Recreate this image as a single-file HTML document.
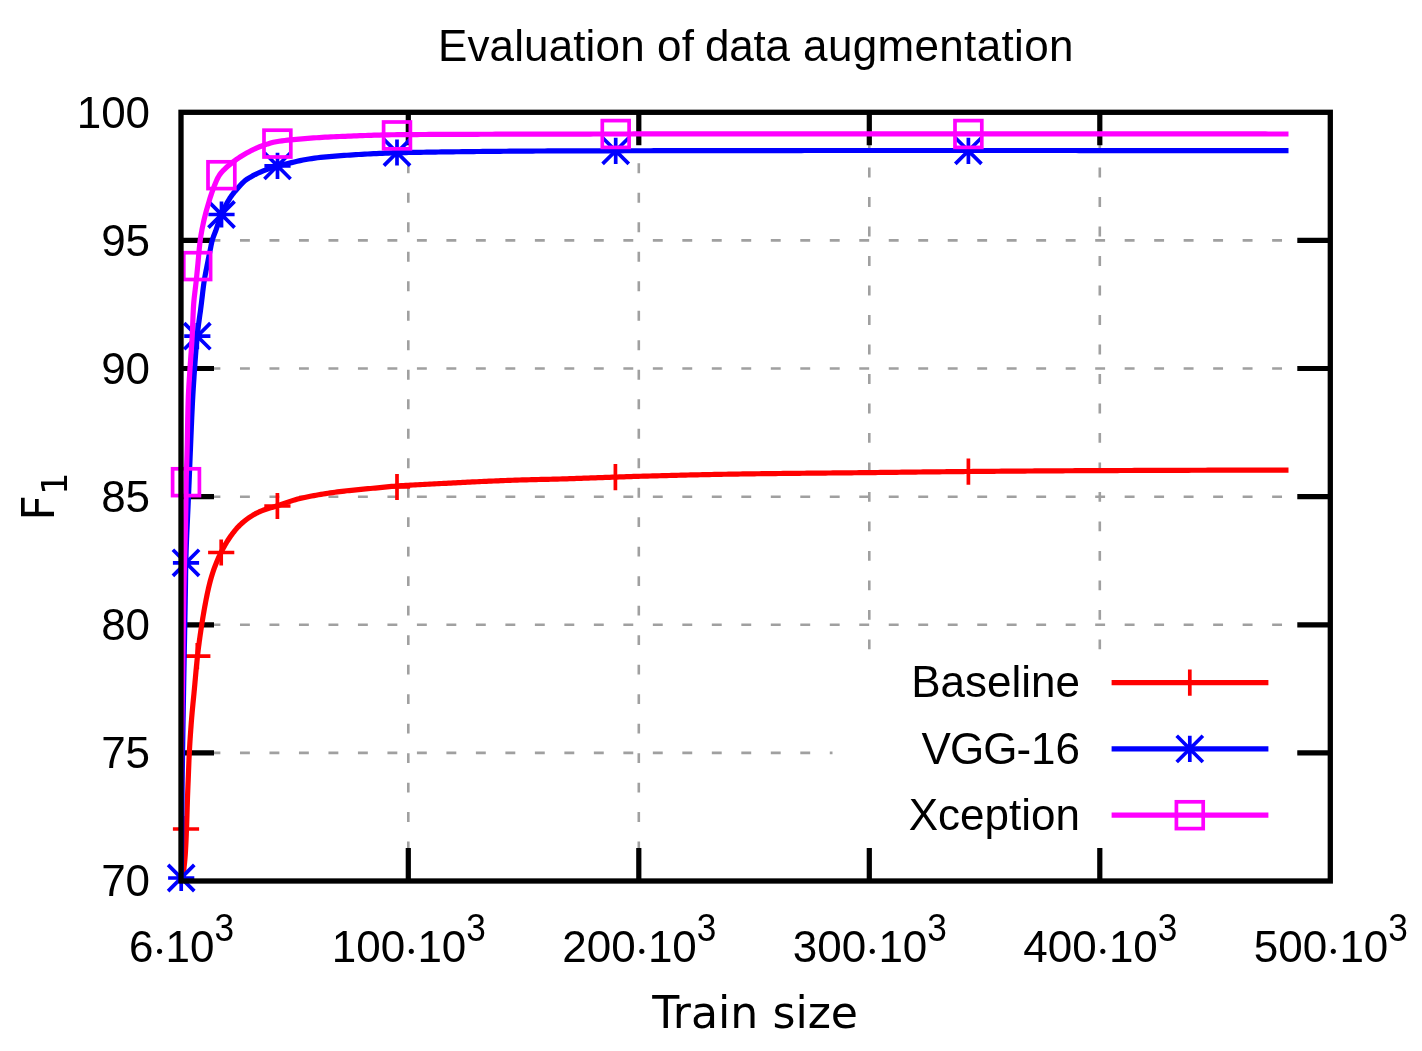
<!DOCTYPE html>
<html lang="en"><head><meta charset="utf-8"><title>Evaluation of data augmentation</title>
<style>html,body{margin:0;padding:0;background:#fff}svg{display:block}</style></head>
<body>
<svg width="1422" height="1051" viewBox="0 0 1422 1051">
<defs><clipPath id="plot"><rect x="181.0" y="112.3" width="1149.3" height="768.7"/></clipPath></defs>
<rect width="1422" height="1051" fill="#fff"/>
<g stroke="#a0a0a0" stroke-width="2.6" fill="none"><path d="M181.0,240.4H1330.3" stroke-dasharray="9.90 19.59"/><path d="M181.0,368.5H1330.3" stroke-dasharray="9.90 19.59"/><path d="M181.0,496.7H1330.3" stroke-dasharray="9.90 19.59"/><path d="M181.0,624.8H1330.3" stroke-dasharray="9.90 19.59"/><path d="M181.0,752.9H832.5" stroke-dasharray="9.90 19.59"/><path d="M1297.5,752.9H1330.3" stroke-dasharray="9.90 19.59"/><path d="M408.3,881.0V112.3" stroke-dasharray="9.90 19.59"/><path d="M638.8,881.0V112.3" stroke-dasharray="9.90 19.59"/><path d="M869.3,881.0V852.0" stroke-dasharray="9.90 19.59"/><path d="M869.3,649.3V112.3" stroke-dasharray="9.90 19.59"/><path d="M1099.8,881.0V852.0" stroke-dasharray="9.90 19.59"/><path d="M1099.8,649.3V112.3" stroke-dasharray="9.90 19.59"/></g>
<path d="M181.0,240.4h33.0M1330.3,240.4h-33.0M181.0,368.5h33.0M1330.3,368.5h-33.0M181.0,496.7h33.0M1330.3,496.7h-33.0M181.0,624.8h33.0M1330.3,624.8h-33.0M181.0,752.9h33.0M1330.3,752.9h-33.0M408.3,881.0v-33.0M408.3,112.3v33.0M638.8,881.0v-33.0M638.8,112.3v33.0M869.3,881.0v-33.0M869.3,112.3v33.0M1099.8,881.0v-33.0M1099.8,112.3v33.0" stroke="#000" stroke-width="5.2" fill="none"/>
<path d="M182.70,881.00 L182.94,878.64 L183.17,876.28 L183.41,873.92 L183.64,871.55 L183.88,869.19 L184.12,866.83 L184.36,864.47 L184.62,862.11 L184.86,859.75 L185.07,857.39 L185.24,855.02 L185.39,852.65 L185.53,850.28 L185.66,847.92 L185.78,845.54 L185.90,843.17 L186.01,840.80 L186.12,838.43 L186.22,836.06 L186.31,833.69 L186.41,831.31 L186.50,828.94 L186.59,826.57 L186.68,824.20 L186.76,821.83 L186.84,819.46 L186.91,817.08 L186.98,814.71 L187.05,812.34 L187.12,809.97 L187.19,807.60 L187.27,805.22 L187.34,802.85 L187.41,800.48 L187.49,798.11 L187.57,795.73 L187.66,793.36 L187.75,790.99 L187.85,788.62 L187.94,786.25 L188.04,783.88 L188.14,781.51 L188.23,779.13 L188.33,776.76 L188.42,774.39 L188.51,772.02 L188.60,769.65 L188.69,767.28 L188.78,764.90 L188.87,762.53 L188.97,760.16 L189.07,757.79 L189.18,755.42 L189.30,753.05 L189.42,750.68 L189.55,748.31 L189.69,745.94 L189.83,743.57 L189.98,741.20 L190.13,738.84 L190.29,736.47 L190.45,734.10 L190.62,731.73 L190.79,729.36 L190.97,727.00 L191.14,724.63 L191.32,722.26 L191.51,719.90 L191.70,717.53 L191.90,715.17 L192.11,712.81 L192.32,710.44 L192.55,708.08 L192.77,705.72 L193.00,703.35 L193.23,700.99 L193.47,698.63 L193.70,696.27 L193.93,693.91 L194.15,691.54 L194.38,689.18 L194.59,686.82 L194.81,684.45 L195.02,682.09 L195.23,679.72 L195.44,677.36 L195.65,674.99 L195.86,672.63 L196.07,670.27 L196.29,667.90 L196.52,665.54 L196.75,663.18 L196.99,660.82 L197.23,658.46 L197.49,656.10 L197.76,653.74 L198.03,651.39 L198.32,649.03 L198.61,646.68 L198.92,644.32 L199.23,641.97 L199.55,639.61 L199.88,637.26 L200.21,634.91 L200.56,632.56 L200.90,630.22 L201.26,627.87 L201.62,625.52 L201.98,623.18 L202.36,620.84 L202.73,618.49 L203.12,616.15 L203.51,613.81 L203.92,611.47 L204.33,609.13 L204.75,606.79 L205.18,604.45 L205.62,602.12 L206.07,599.79 L206.53,597.46 L207.00,595.14 L207.49,592.82 L207.99,590.50 L208.51,588.19 L209.05,585.87 L209.61,583.56 L210.20,581.26 L210.83,578.97 L211.49,576.69 L212.18,574.43 L212.91,572.18 L213.68,569.93 L214.49,567.69 L215.34,565.46 L216.22,563.25 L217.12,561.04 L218.06,558.85 L219.03,556.68 L220.03,554.54 L221.04,552.41 L222.10,550.30 L223.21,548.20 L224.37,546.12 L225.56,544.06 L226.81,542.01 L228.08,540.00 L229.40,538.02 L230.74,536.07 L232.11,534.16 L233.55,532.26 L235.04,530.40 L236.59,528.58 L238.20,526.82 L239.85,525.14 L241.57,523.53 L243.36,521.96 L245.21,520.45 L247.12,519.00 L249.05,517.63 L251.02,516.34 L253.05,515.09 L255.12,513.90 L257.23,512.78 L259.37,511.77 L261.54,510.87 L263.75,510.05 L265.99,509.29 L268.26,508.57 L270.54,507.87 L272.83,507.19 L275.11,506.49 L277.37,505.78 L279.63,505.02 L281.88,504.25 L284.13,503.46 L286.37,502.67 L288.62,501.89 L290.88,501.13 L293.14,500.40 L295.40,499.71 L297.68,499.08 L299.97,498.51 L302.27,497.98 L304.57,497.48 L306.89,496.99 L309.21,496.52 L311.54,496.06 L313.87,495.62 L316.21,495.19 L318.55,494.78 L320.90,494.38 L323.25,493.99 L325.60,493.62 L327.96,493.26 L330.31,492.91 L332.66,492.58 L335.02,492.25 L337.37,491.94 L339.72,491.64 L342.07,491.34 L344.43,491.06 L346.78,490.79 L349.14,490.54 L351.50,490.29 L353.86,490.05 L356.22,489.81 L358.59,489.58 L360.95,489.36 L363.32,489.14 L365.68,488.92 L368.05,488.71 L370.41,488.49 L372.78,488.28 L375.14,488.06 L377.50,487.84 L379.87,487.61 L382.23,487.38 L384.59,487.14 L386.95,486.90 L389.32,486.67 L391.68,486.44 L394.04,486.23 L396.41,486.04 L398.77,485.87 L401.14,485.71 L403.51,485.55 L405.87,485.41 L408.24,485.26 L410.61,485.12 L412.98,484.99 L415.35,484.86 L417.72,484.73 L420.09,484.61 L422.46,484.49 L424.83,484.37 L427.20,484.25 L429.58,484.13 L431.95,484.01 L434.32,483.89 L436.69,483.77 L439.06,483.65 L441.43,483.52 L443.80,483.40 L446.17,483.28 L448.54,483.15 L450.91,483.03 L453.28,482.90 L455.65,482.78 L458.02,482.66 L460.39,482.54 L462.76,482.42 L465.13,482.30 L467.50,482.18 L469.87,482.07 L472.24,481.96 L474.61,481.85 L476.98,481.74 L479.35,481.63 L481.72,481.52 L484.09,481.42 L486.47,481.31 L488.84,481.21 L491.21,481.11 L493.58,481.00 L495.95,480.90 L498.32,480.80 L500.69,480.70 L503.06,480.61 L505.44,480.51 L507.81,480.42 L510.18,480.33 L512.55,480.25 L514.92,480.16 L517.29,480.09 L519.67,480.01 L522.04,479.94 L524.41,479.87 L526.78,479.81 L529.15,479.75 L531.53,479.69 L533.90,479.63 L536.27,479.57 L538.64,479.52 L541.02,479.47 L543.39,479.41 L545.76,479.36 L548.14,479.30 L550.51,479.25 L552.88,479.19 L555.25,479.13 L557.63,479.07 L560.00,479.00 L562.37,478.93 L564.74,478.86 L567.11,478.78 L569.49,478.71 L571.86,478.63 L574.23,478.55 L576.60,478.47 L578.97,478.39 L581.35,478.31 L583.72,478.22 L586.09,478.14 L588.46,478.05 L590.83,477.96 L593.20,477.88 L595.58,477.79 L597.95,477.70 L600.32,477.62 L602.69,477.53 L605.06,477.45 L607.44,477.36 L609.81,477.28 L612.18,477.20 L614.55,477.12 L616.92,477.03 L619.29,476.95 L621.67,476.87 L624.04,476.79 L626.41,476.70 L628.78,476.62 L631.15,476.54 L633.53,476.47 L635.90,476.39 L638.27,476.32 L640.64,476.25 L643.01,476.19 L645.39,476.12 L647.76,476.06 L650.13,475.99 L652.50,475.93 L654.88,475.86 L657.25,475.80 L659.62,475.73 L661.99,475.67 L664.37,475.61 L666.74,475.55 L669.11,475.49 L671.48,475.42 L673.86,475.36 L676.23,475.30 L678.60,475.25 L680.97,475.19 L683.35,475.13 L685.72,475.07 L688.09,475.02 L690.46,474.96 L692.84,474.91 L695.21,474.85 L697.58,474.80 L699.96,474.75 L702.33,474.69 L704.70,474.64 L707.07,474.59 L709.45,474.54 L711.82,474.50 L714.19,474.45 L716.57,474.40 L718.94,474.36 L721.31,474.31 L723.68,474.27 L726.06,474.23 L728.43,474.19 L730.80,474.15 L733.18,474.11 L735.55,474.07 L737.92,474.03 L740.29,474.00 L742.67,473.96 L745.04,473.93 L747.41,473.89 L749.79,473.86 L752.16,473.83 L754.53,473.80 L756.90,473.76 L759.28,473.73 L761.65,473.70 L764.02,473.68 L766.40,473.65 L768.77,473.62 L771.14,473.59 L773.52,473.56 L775.89,473.54 L778.26,473.51 L780.63,473.48 L783.01,473.46 L785.38,473.43 L787.75,473.41 L790.13,473.38 L792.50,473.36 L794.87,473.33 L797.25,473.31 L799.62,473.28 L801.99,473.26 L804.37,473.24 L806.74,473.21 L809.11,473.19 L811.49,473.17 L813.86,473.15 L816.23,473.12 L818.61,473.10 L820.98,473.08 L823.35,473.06 L825.73,473.03 L828.10,473.01 L830.47,472.99 L832.84,472.97 L835.22,472.94 L837.59,472.92 L839.96,472.90 L842.34,472.87 L844.71,472.85 L847.08,472.83 L849.46,472.80 L851.83,472.78 L854.20,472.76 L856.58,472.73 L858.95,472.71 L861.32,472.68 L863.70,472.66 L866.07,472.63 L868.44,472.61 L870.82,472.58 L873.19,472.55 L875.56,472.53 L877.93,472.50 L880.31,472.47 L882.68,472.45 L885.05,472.42 L887.43,472.39 L889.80,472.36 L892.17,472.33 L894.55,472.31 L896.92,472.28 L899.29,472.25 L901.67,472.22 L904.04,472.19 L906.41,472.16 L908.79,472.14 L911.16,472.11 L913.53,472.08 L915.90,472.05 L918.28,472.02 L920.65,471.99 L923.02,471.97 L925.40,471.94 L927.77,471.91 L930.14,471.88 L932.52,471.86 L934.89,471.83 L937.26,471.80 L939.64,471.78 L942.01,471.75 L944.38,471.73 L946.76,471.70 L949.13,471.68 L951.50,471.65 L953.87,471.63 L956.25,471.61 L958.62,471.58 L960.99,471.56 L963.37,471.54 L965.74,471.52 L968.11,471.50 L970.49,471.48 L972.86,471.46 L975.23,471.44 L977.61,471.42 L979.98,471.40 L982.35,471.38 L984.73,471.36 L987.10,471.34 L989.47,471.32 L991.85,471.30 L994.22,471.28 L996.59,471.26 L998.96,471.24 L1001.34,471.22 L1003.71,471.20 L1006.08,471.18 L1008.46,471.17 L1010.83,471.15 L1013.20,471.13 L1015.58,471.11 L1017.95,471.09 L1020.32,471.07 L1022.70,471.06 L1025.07,471.04 L1027.44,471.02 L1029.82,471.00 L1032.19,470.99 L1034.56,470.97 L1036.94,470.95 L1039.31,470.94 L1041.68,470.92 L1044.06,470.90 L1046.43,470.89 L1048.80,470.87 L1051.18,470.86 L1053.55,470.84 L1055.92,470.83 L1058.29,470.81 L1060.67,470.80 L1063.04,470.78 L1065.41,470.77 L1067.79,470.76 L1070.16,470.74 L1072.53,470.73 L1074.91,470.72 L1077.28,470.70 L1079.65,470.69 L1082.03,470.68 L1084.40,470.67 L1086.77,470.66 L1089.15,470.65 L1091.52,470.64 L1093.89,470.63 L1096.27,470.62 L1098.64,470.61 L1101.01,470.60 L1103.39,470.59 L1105.76,470.58 L1108.13,470.57 L1110.51,470.56 L1112.88,470.55 L1115.25,470.54 L1117.63,470.53 L1120.00,470.52 L1122.37,470.51 L1124.75,470.50 L1127.12,470.49 L1129.49,470.49 L1131.86,470.48 L1134.24,470.47 L1136.61,470.46 L1138.98,470.45 L1141.36,470.44 L1143.73,470.43 L1146.10,470.42 L1148.48,470.41 L1150.85,470.41 L1153.22,470.40 L1155.60,470.39 L1157.97,470.38 L1160.34,470.37 L1162.72,470.36 L1165.09,470.36 L1167.46,470.35 L1169.84,470.34 L1172.21,470.33 L1174.58,470.32 L1176.96,470.32 L1179.33,470.31 L1181.70,470.30 L1184.08,470.29 L1186.45,470.29 L1188.82,470.28 L1191.20,470.27 L1193.57,470.26 L1195.94,470.26 L1198.32,470.25 L1200.69,470.24 L1203.06,470.24 L1205.44,470.23 L1207.81,470.22 L1210.18,470.22 L1212.56,470.21 L1214.93,470.21 L1217.30,470.20 L1219.68,470.19 L1222.05,470.19 L1224.42,470.18 L1226.79,470.18 L1229.17,470.17 L1231.54,470.17 L1233.91,470.16 L1236.29,470.16 L1238.66,470.15 L1241.03,470.15 L1243.41,470.15 L1245.78,470.14 L1248.15,470.14 L1250.53,470.13 L1252.90,470.13 L1255.27,470.13 L1257.65,470.12 L1260.02,470.12 L1262.39,470.12 L1264.77,470.12 L1267.14,470.11 L1269.51,470.11 L1271.89,470.11 L1274.26,470.11 L1276.63,470.11 L1279.01,470.10 L1281.38,470.10 L1283.75,470.10 L1286.13,470.10 L1288.50,470.10" stroke="#ff0000" stroke-width="5.2" fill="none" stroke-linejoin="round" clip-path="url(#plot)"/>
<path d="M172.90,829.00H199.10M186.00,815.90V842.10" stroke="#ff0000" stroke-width="3.7" fill="none"/>
<path d="M184.20,656.20H210.40M197.30,643.10V669.30" stroke="#ff0000" stroke-width="3.7" fill="none"/>
<path d="M208.10,552.50H234.30M221.20,539.40V565.60" stroke="#ff0000" stroke-width="3.7" fill="none"/>
<path d="M264.30,506.00H290.50M277.40,492.90V519.10" stroke="#ff0000" stroke-width="3.7" fill="none"/>
<path d="M383.90,487.00H410.10M397.00,473.90V500.10" stroke="#ff0000" stroke-width="3.7" fill="none"/>
<path d="M602.30,477.20H628.50M615.40,464.10V490.30" stroke="#ff0000" stroke-width="3.7" fill="none"/>
<path d="M955.30,471.60H981.50M968.40,458.50V484.70" stroke="#ff0000" stroke-width="3.7" fill="none"/>
<path d="M180.90,890.00 L180.98,887.05 L181.06,884.10 L181.14,881.15 L181.20,878.20 L181.24,875.25 L181.29,872.29 L181.33,869.34 L181.37,866.39 L181.41,863.44 L181.44,860.49 L181.48,857.54 L181.51,854.59 L181.54,851.64 L181.57,848.68 L181.60,845.73 L181.63,842.78 L181.66,839.83 L181.68,836.88 L181.71,833.93 L181.73,830.97 L181.76,828.02 L181.78,825.07 L181.80,822.12 L181.83,819.17 L181.85,816.22 L181.87,813.26 L181.90,810.31 L181.92,807.36 L181.95,804.41 L181.98,801.46 L182.00,798.51 L182.03,795.56 L182.06,792.60 L182.09,789.65 L182.12,786.70 L182.16,783.75 L182.19,780.80 L182.23,777.85 L182.26,774.89 L182.30,771.94 L182.34,768.99 L182.38,766.04 L182.42,763.09 L182.47,760.14 L182.51,757.19 L182.55,754.24 L182.60,751.28 L182.64,748.33 L182.69,745.38 L182.73,742.43 L182.78,739.48 L182.83,736.53 L182.87,733.58 L182.92,730.62 L182.97,727.67 L183.02,724.72 L183.07,721.77 L183.12,718.82 L183.17,715.87 L183.22,712.92 L183.26,709.97 L183.31,707.01 L183.36,704.06 L183.41,701.11 L183.46,698.16 L183.51,695.21 L183.56,692.26 L183.61,689.31 L183.66,686.36 L183.71,683.40 L183.76,680.45 L183.82,677.50 L183.87,674.55 L183.92,671.60 L183.97,668.65 L184.03,665.70 L184.08,662.75 L184.14,659.80 L184.19,656.84 L184.25,653.89 L184.30,650.94 L184.36,647.99 L184.41,645.04 L184.47,642.09 L184.53,639.14 L184.58,636.19 L184.64,633.24 L184.69,630.28 L184.75,627.33 L184.80,624.38 L184.86,621.43 L184.91,618.48 L184.96,615.53 L185.02,612.58 L185.07,609.63 L185.12,606.67 L185.17,603.72 L185.22,600.77 L185.27,597.82 L185.32,594.87 L185.37,591.92 L185.42,588.97 L185.46,586.02 L185.50,583.06 L185.54,580.11 L185.57,577.16 L185.61,574.21 L185.66,571.26 L185.70,568.31 L185.75,565.36 L185.81,562.41 L185.88,559.46 L185.95,556.50 L186.04,553.56 L186.13,550.61 L186.24,547.66 L186.35,544.71 L186.46,541.76 L186.58,538.81 L186.71,535.86 L186.84,532.91 L186.97,529.96 L187.11,527.01 L187.24,524.06 L187.38,521.11 L187.52,518.16 L187.65,515.22 L187.78,512.27 L187.91,509.32 L188.04,506.37 L188.17,503.42 L188.29,500.47 L188.42,497.52 L188.55,494.57 L188.68,491.62 L188.81,488.68 L188.94,485.73 L189.07,482.78 L189.19,479.83 L189.31,476.88 L189.43,473.93 L189.55,470.98 L189.67,468.03 L189.79,465.08 L189.90,462.13 L190.02,459.18 L190.14,456.23 L190.26,453.29 L190.39,450.34 L190.51,447.39 L190.63,444.44 L190.75,441.49 L190.87,438.54 L190.99,435.59 L191.12,432.64 L191.24,429.69 L191.36,426.74 L191.49,423.79 L191.61,420.84 L191.74,417.89 L191.87,414.95 L192.01,412.00 L192.15,409.05 L192.29,406.10 L192.44,403.15 L192.59,400.21 L192.75,397.26 L192.91,394.31 L193.09,391.37 L193.27,388.42 L193.45,385.47 L193.64,382.53 L193.84,379.58 L194.03,376.64 L194.24,373.69 L194.44,370.75 L194.65,367.80 L194.86,364.86 L195.07,361.91 L195.28,358.97 L195.50,356.02 L195.72,353.08 L195.95,350.14 L196.19,347.19 L196.44,344.25 L196.70,341.31 L196.97,338.38 L197.26,335.44 L197.57,332.51 L197.91,329.58 L198.27,326.65 L198.66,323.72 L199.05,320.80 L199.45,317.87 L199.86,314.95 L200.27,312.02 L200.66,309.10 L201.05,306.17 L201.42,303.24 L201.77,300.31 L202.12,297.37 L202.46,294.44 L202.80,291.51 L203.16,288.58 L203.54,285.65 L203.94,282.73 L204.39,279.82 L204.88,276.91 L205.43,274.01 L205.99,271.11 L206.57,268.21 L207.13,265.31 L207.70,262.42 L208.27,259.52 L208.85,256.63 L209.44,253.73 L210.03,250.84 L210.61,247.94 L211.17,245.04 L211.79,242.15 L212.54,239.32 L213.49,236.53 L214.56,233.77 L215.63,231.01 L216.62,228.23 L217.57,225.42 L218.51,222.62 L219.47,219.82 L220.48,217.05 L221.57,214.33 L222.75,211.62 L223.99,208.93 L225.30,206.26 L226.68,203.63 L228.13,201.05 L229.65,198.55 L231.27,196.12 L233.03,193.76 L234.90,191.46 L236.84,189.21 L238.82,187.00 L240.81,184.81 L242.85,182.65 L245.02,180.68 L247.39,178.97 L249.90,177.39 L252.49,175.92 L255.11,174.54 L257.75,173.25 L260.45,172.04 L263.19,170.91 L265.94,169.84 L268.71,168.82 L271.50,167.85 L274.31,166.94 L277.14,166.10 L279.98,165.34 L282.85,164.63 L285.73,163.97 L288.61,163.32 L291.49,162.65 L294.36,161.98 L297.24,161.31 L300.12,160.66 L303.01,160.07 L305.91,159.54 L308.82,159.05 L311.74,158.60 L314.66,158.17 L317.59,157.79 L320.52,157.44 L323.45,157.12 L326.39,156.83 L329.33,156.55 L332.27,156.29 L335.22,156.05 L338.16,155.83 L341.10,155.63 L344.05,155.43 L346.99,155.23 L349.94,155.04 L352.88,154.85 L355.83,154.67 L358.78,154.49 L361.72,154.32 L364.67,154.15 L367.62,153.99 L370.57,153.84 L373.52,153.69 L376.47,153.55 L379.42,153.42 L382.37,153.29 L385.31,153.17 L388.26,153.07 L391.21,152.97 L394.16,152.88 L397.11,152.80 L400.06,152.72 L403.01,152.65 L405.96,152.59 L408.91,152.52 L411.86,152.46 L414.81,152.40 L417.77,152.34 L420.72,152.29 L423.67,152.23 L426.62,152.18 L429.57,152.13 L432.52,152.09 L435.47,152.04 L438.43,152.00 L441.38,151.95 L444.33,151.91 L447.28,151.87 L450.23,151.84 L453.18,151.80 L456.14,151.76 L459.09,151.73 L462.04,151.69 L464.99,151.66 L467.94,151.62 L470.89,151.59 L473.85,151.56 L476.80,151.52 L479.75,151.49 L482.70,151.46 L485.65,151.43 L488.60,151.40 L491.56,151.37 L494.51,151.34 L497.46,151.31 L500.41,151.28 L503.36,151.25 L506.31,151.23 L509.26,151.20 L512.22,151.18 L515.17,151.15 L518.12,151.13 L521.07,151.11 L524.02,151.09 L526.97,151.07 L529.93,151.05 L532.88,151.03 L535.83,151.02 L538.78,151.01 L541.73,150.99 L544.68,150.98 L547.64,150.97 L550.59,150.96 L553.54,150.95 L556.49,150.94 L559.44,150.93 L562.39,150.92 L565.34,150.91 L568.30,150.90 L571.25,150.89 L574.20,150.88 L577.15,150.87 L580.10,150.86 L583.05,150.86 L586.01,150.85 L588.96,150.84 L591.91,150.84 L594.86,150.83 L597.81,150.82 L600.76,150.82 L603.72,150.81 L606.67,150.81 L609.62,150.80 L612.57,150.80 L615.52,150.79 L618.47,150.78 L621.43,150.78 L624.38,150.77 L627.33,150.77 L630.28,150.76 L633.23,150.76 L636.18,150.75 L639.14,150.75 L642.09,150.74 L645.04,150.74 L647.99,150.73 L650.94,150.73 L653.89,150.72 L656.85,150.72 L659.80,150.71 L662.75,150.71 L665.70,150.70 L668.65,150.70 L671.60,150.69 L674.56,150.69 L677.51,150.68 L680.46,150.68 L683.41,150.67 L686.36,150.67 L689.31,150.66 L692.27,150.66 L695.22,150.66 L698.17,150.65 L701.12,150.65 L704.07,150.64 L707.02,150.64 L709.98,150.63 L712.93,150.63 L715.88,150.62 L718.83,150.62 L721.78,150.62 L724.73,150.61 L727.69,150.61 L730.64,150.60 L733.59,150.60 L736.54,150.60 L739.49,150.59 L742.44,150.59 L745.40,150.58 L748.35,150.58 L751.30,150.58 L754.25,150.57 L757.20,150.57 L760.15,150.57 L763.11,150.56 L766.06,150.56 L769.01,150.56 L771.96,150.55 L774.91,150.55 L777.86,150.55 L780.82,150.55 L783.77,150.54 L786.72,150.54 L789.67,150.54 L792.62,150.53 L795.57,150.53 L798.53,150.53 L801.48,150.53 L804.43,150.52 L807.38,150.52 L810.33,150.52 L813.28,150.52 L816.24,150.52 L819.19,150.52 L822.14,150.51 L825.09,150.51 L828.04,150.51 L830.99,150.51 L833.95,150.51 L836.90,150.51 L839.85,150.51 L842.80,150.50 L845.75,150.50 L848.70,150.50 L851.66,150.50 L854.61,150.50 L857.56,150.50 L860.51,150.50 L863.46,150.50 L866.41,150.50 L869.37,150.50 L872.32,150.50 L875.27,150.50 L878.22,150.50 L881.17,150.50 L884.12,150.50 L887.08,150.50 L890.03,150.50 L892.98,150.50 L895.93,150.50 L898.88,150.50 L901.83,150.50 L904.78,150.50 L907.74,150.50 L910.69,150.50 L913.64,150.50 L916.59,150.50 L919.54,150.50 L922.49,150.50 L925.45,150.50 L928.40,150.50 L931.35,150.50 L934.30,150.50 L937.25,150.50 L940.20,150.50 L943.16,150.50 L946.11,150.50 L949.06,150.50 L952.01,150.50 L954.96,150.50 L957.91,150.50 L960.87,150.50 L963.82,150.50 L966.77,150.50 L969.72,150.50 L972.67,150.50 L975.62,150.50 L978.58,150.50 L981.53,150.50 L984.48,150.50 L987.43,150.50 L990.38,150.50 L993.33,150.51 L996.29,150.51 L999.24,150.51 L1002.19,150.51 L1005.14,150.51 L1008.09,150.51 L1011.04,150.51 L1014.00,150.51 L1016.95,150.51 L1019.90,150.51 L1022.85,150.51 L1025.80,150.51 L1028.75,150.51 L1031.71,150.51 L1034.66,150.51 L1037.61,150.51 L1040.56,150.51 L1043.51,150.51 L1046.46,150.52 L1049.42,150.52 L1052.37,150.52 L1055.32,150.52 L1058.27,150.52 L1061.22,150.52 L1064.17,150.52 L1067.13,150.52 L1070.08,150.52 L1073.03,150.52 L1075.98,150.52 L1078.93,150.53 L1081.88,150.53 L1084.84,150.53 L1087.79,150.53 L1090.74,150.53 L1093.69,150.53 L1096.64,150.53 L1099.59,150.53 L1102.55,150.53 L1105.50,150.54 L1108.45,150.54 L1111.40,150.54 L1114.35,150.54 L1117.30,150.54 L1120.26,150.54 L1123.21,150.54 L1126.16,150.55 L1129.11,150.55 L1132.06,150.55 L1135.01,150.55 L1137.97,150.55 L1140.92,150.55 L1143.87,150.56 L1146.82,150.56 L1149.77,150.56 L1152.72,150.56 L1155.68,150.56 L1158.63,150.57 L1161.58,150.57 L1164.53,150.57 L1167.48,150.57 L1170.43,150.57 L1173.39,150.58 L1176.34,150.58 L1179.29,150.58 L1182.24,150.58 L1185.19,150.59 L1188.14,150.59 L1191.10,150.59 L1194.05,150.59 L1197.00,150.60 L1199.95,150.60 L1202.90,150.60 L1205.85,150.60 L1208.81,150.61 L1211.76,150.61 L1214.71,150.61 L1217.66,150.61 L1220.61,150.62 L1223.56,150.62 L1226.52,150.62 L1229.47,150.63 L1232.42,150.63 L1235.37,150.63 L1238.32,150.64 L1241.27,150.64 L1244.23,150.64 L1247.18,150.65 L1250.13,150.65 L1253.08,150.65 L1256.03,150.66 L1258.98,150.66 L1261.94,150.66 L1264.89,150.67 L1267.84,150.67 L1270.79,150.68 L1273.74,150.68 L1276.69,150.68 L1279.65,150.69 L1282.60,150.69 L1285.55,150.70 L1288.50,150.70" stroke="#0000ff" stroke-width="5.2" fill="none" stroke-linejoin="round" clip-path="url(#plot)"/>
<path d="M168.10,878.00H194.30M181.20,864.90V891.10M168.10,864.90L194.30,891.10M168.10,891.10L194.30,864.90" stroke="#0000ff" stroke-width="3.7" fill="none"/>
<path d="M172.90,562.80H199.10M186.00,549.70V575.90M172.90,549.70L199.10,575.90M172.90,575.90L199.10,549.70" stroke="#0000ff" stroke-width="3.7" fill="none"/>
<path d="M184.20,336.20H210.40M197.30,323.10V349.30M184.20,323.10L210.40,349.30M184.20,349.30L210.40,323.10" stroke="#0000ff" stroke-width="3.7" fill="none"/>
<path d="M208.40,214.50H234.60M221.50,201.40V227.60M208.40,201.40L234.60,227.60M208.40,227.60L234.60,201.40" stroke="#0000ff" stroke-width="3.7" fill="none"/>
<path d="M264.40,165.90H290.60M277.50,152.80V179.00M264.40,152.80L290.60,179.00M264.40,179.00L290.60,152.80" stroke="#0000ff" stroke-width="3.7" fill="none"/>
<path d="M383.90,152.50H410.10M397.00,139.40V165.60M383.90,139.40L410.10,165.60M383.90,165.60L410.10,139.40" stroke="#0000ff" stroke-width="3.7" fill="none"/>
<path d="M602.60,150.80H628.80M615.70,137.70V163.90M602.60,137.70L628.80,163.90M602.60,163.90L628.80,137.70" stroke="#0000ff" stroke-width="3.7" fill="none"/>
<path d="M955.30,150.80H981.50M968.40,137.70V163.90M955.30,137.70L981.50,163.90M955.30,163.90L981.50,137.70" stroke="#0000ff" stroke-width="3.7" fill="none"/>
<path d="M180.00,820.00 L180.05,817.12 L180.11,814.23 L180.16,811.35 L180.21,808.46 L180.26,805.58 L180.32,802.69 L180.37,799.81 L180.42,796.93 L180.47,794.04 L180.53,791.16 L180.58,788.27 L180.63,785.39 L180.69,782.50 L180.74,779.62 L180.79,776.74 L180.84,773.85 L180.90,770.97 L180.95,768.08 L181.00,765.20 L181.06,762.31 L181.11,759.43 L181.16,756.54 L181.22,753.66 L181.27,750.78 L181.33,747.89 L181.38,745.01 L181.44,742.12 L181.49,739.24 L181.55,736.35 L181.60,733.47 L181.66,730.59 L181.71,727.70 L181.77,724.82 L181.82,721.93 L181.88,719.05 L181.93,716.16 L181.99,713.28 L182.04,710.40 L182.09,707.51 L182.15,704.63 L182.20,701.74 L182.25,698.86 L182.30,695.97 L182.35,693.09 L182.40,690.21 L182.44,687.32 L182.49,684.44 L182.54,681.55 L182.58,678.67 L182.63,675.78 L182.67,672.90 L182.71,670.01 L182.75,667.13 L182.79,664.25 L182.83,661.36 L182.87,658.48 L182.91,655.59 L182.95,652.71 L182.99,649.82 L183.03,646.94 L183.07,644.05 L183.11,641.17 L183.15,638.28 L183.19,635.40 L183.23,632.52 L183.27,629.63 L183.31,626.75 L183.35,623.86 L183.40,620.98 L183.44,618.09 L183.48,615.21 L183.53,612.32 L183.57,609.44 L183.62,606.56 L183.66,603.67 L183.71,600.79 L183.76,597.90 L183.81,595.02 L183.86,592.13 L183.91,589.25 L183.97,586.36 L184.03,583.48 L184.09,580.60 L184.15,577.71 L184.22,574.83 L184.29,571.94 L184.36,569.06 L184.43,566.18 L184.51,563.29 L184.58,560.41 L184.66,557.52 L184.74,554.64 L184.81,551.76 L184.89,548.87 L184.97,545.99 L185.04,543.11 L185.12,540.22 L185.19,537.34 L185.27,534.45 L185.34,531.57 L185.41,528.69 L185.48,525.80 L185.55,522.92 L185.61,520.03 L185.67,517.15 L185.73,514.27 L185.79,511.38 L185.84,508.50 L185.89,505.61 L185.93,502.73 L185.97,499.84 L186.01,496.96 L186.04,494.07 L186.07,491.19 L186.11,488.31 L186.15,485.42 L186.19,482.54 L186.25,479.65 L186.31,476.77 L186.39,473.88 L186.47,471.00 L186.55,468.12 L186.64,465.23 L186.74,462.35 L186.83,459.47 L186.92,456.58 L187.00,453.70 L187.08,450.82 L187.15,447.93 L187.22,445.05 L187.28,442.16 L187.34,439.28 L187.39,436.39 L187.44,433.51 L187.50,430.62 L187.55,427.74 L187.60,424.86 L187.66,421.97 L187.71,419.09 L187.77,416.20 L187.84,413.32 L187.90,410.43 L187.98,407.55 L188.06,404.67 L188.14,401.79 L188.24,398.90 L188.35,396.02 L188.48,393.14 L188.63,390.26 L188.80,387.38 L188.97,384.50 L189.15,381.62 L189.34,378.74 L189.53,375.86 L189.71,372.98 L189.90,370.10 L190.08,367.22 L190.27,364.34 L190.47,361.47 L190.67,358.59 L190.88,355.71 L191.09,352.83 L191.30,349.96 L191.50,347.08 L191.70,344.20 L191.89,341.32 L192.06,338.44 L192.22,335.56 L192.37,332.68 L192.50,329.80 L192.61,326.92 L192.72,324.03 L192.83,321.15 L192.94,318.26 L193.06,315.38 L193.19,312.50 L193.33,309.62 L193.49,306.74 L193.68,303.87 L193.92,300.99 L194.20,298.12 L194.52,295.26 L194.86,292.39 L195.21,289.52 L195.56,286.66 L195.90,283.79 L196.21,280.92 L196.50,278.05 L196.79,275.18 L197.08,272.31 L197.36,269.44 L197.64,266.57 L197.92,263.70 L198.18,260.82 L198.44,257.95 L198.69,255.07 L198.95,252.19 L199.22,249.32 L199.51,246.45 L199.82,243.59 L200.17,240.73 L200.56,237.88 L201.01,235.03 L201.51,232.18 L202.04,229.34 L202.61,226.51 L203.20,223.68 L203.81,220.87 L204.45,218.06 L205.14,215.26 L205.88,212.47 L206.65,209.68 L207.45,206.91 L208.25,204.14 L209.07,201.37 L209.90,198.60 L210.77,195.85 L211.69,193.11 L212.65,190.40 L213.66,187.69 L214.70,184.94 L215.81,182.20 L216.99,179.54 L218.29,177.00 L219.74,174.64 L221.43,172.42 L223.37,170.30 L225.48,168.27 L227.71,166.31 L229.98,164.43 L232.23,162.62 L234.50,160.86 L236.84,159.17 L239.24,157.54 L241.68,155.98 L244.16,154.49 L246.65,153.06 L249.18,151.66 L251.74,150.30 L254.34,149.01 L256.97,147.82 L259.63,146.74 L262.32,145.75 L265.05,144.79 L267.81,143.89 L270.60,143.06 L273.40,142.33 L276.21,141.73 L279.03,141.26 L281.87,140.85 L284.73,140.49 L287.60,140.16 L290.48,139.87 L293.36,139.59 L296.25,139.33 L299.13,139.08 L302.00,138.82 L304.87,138.58 L307.75,138.35 L310.63,138.13 L313.50,137.92 L316.38,137.73 L319.26,137.54 L322.14,137.37 L325.02,137.21 L327.90,137.06 L330.78,136.91 L333.67,136.77 L336.55,136.64 L339.43,136.52 L342.31,136.41 L345.19,136.29 L348.08,136.17 L350.96,136.06 L353.84,135.94 L356.73,135.82 L359.61,135.71 L362.49,135.60 L365.37,135.49 L368.26,135.39 L371.14,135.29 L374.03,135.20 L376.91,135.11 L379.79,135.03 L382.68,134.95 L385.56,134.88 L388.44,134.83 L391.33,134.77 L394.21,134.73 L397.10,134.70 L399.98,134.67 L402.86,134.65 L405.75,134.62 L408.63,134.60 L411.52,134.58 L414.40,134.56 L417.29,134.54 L420.17,134.52 L423.06,134.50 L425.94,134.48 L428.83,134.47 L431.71,134.45 L434.60,134.44 L437.48,134.42 L440.37,134.41 L443.25,134.40 L446.14,134.38 L449.02,134.37 L451.91,134.36 L454.79,134.35 L457.68,134.34 L460.56,134.33 L463.45,134.32 L466.33,134.31 L469.22,134.30 L472.10,134.29 L474.99,134.28 L477.87,134.28 L480.75,134.27 L483.64,134.26 L486.52,134.25 L489.41,134.24 L492.29,134.23 L495.18,134.22 L498.06,134.22 L500.95,134.21 L503.83,134.20 L506.72,134.19 L509.60,134.19 L512.49,134.18 L515.37,134.17 L518.26,134.16 L521.14,134.16 L524.03,134.15 L526.91,134.14 L529.80,134.14 L532.68,134.13 L535.57,134.12 L538.45,134.12 L541.34,134.11 L544.22,134.11 L547.11,134.10 L549.99,134.09 L552.87,134.09 L555.76,134.08 L558.64,134.08 L561.53,134.07 L564.41,134.07 L567.30,134.06 L570.18,134.06 L573.07,134.05 L575.95,134.05 L578.84,134.04 L581.72,134.04 L584.61,134.03 L587.49,134.03 L590.38,134.03 L593.26,134.02 L596.15,134.02 L599.03,134.01 L601.92,134.01 L604.80,134.01 L607.69,134.00 L610.57,134.00 L613.46,134.00 L616.34,133.99 L619.23,133.99 L622.11,133.99 L624.99,133.98 L627.88,133.98 L630.76,133.98 L633.65,133.97 L636.53,133.97 L639.42,133.97 L642.30,133.96 L645.19,133.96 L648.07,133.96 L650.96,133.95 L653.84,133.95 L656.73,133.95 L659.61,133.94 L662.50,133.94 L665.38,133.94 L668.27,133.93 L671.15,133.93 L674.04,133.93 L676.92,133.92 L679.81,133.92 L682.69,133.92 L685.58,133.91 L688.46,133.91 L691.35,133.91 L694.23,133.90 L697.11,133.90 L700.00,133.90 L702.88,133.90 L705.77,133.89 L708.65,133.89 L711.54,133.89 L714.42,133.88 L717.31,133.88 L720.19,133.88 L723.08,133.88 L725.96,133.87 L728.85,133.87 L731.73,133.87 L734.62,133.87 L737.50,133.86 L740.39,133.86 L743.27,133.86 L746.16,133.86 L749.04,133.85 L751.93,133.85 L754.81,133.85 L757.70,133.85 L760.58,133.84 L763.47,133.84 L766.35,133.84 L769.24,133.84 L772.12,133.84 L775.00,133.83 L777.89,133.83 L780.77,133.83 L783.66,133.83 L786.54,133.83 L789.43,133.82 L792.31,133.82 L795.20,133.82 L798.08,133.82 L800.97,133.82 L803.85,133.82 L806.74,133.82 L809.62,133.81 L812.51,133.81 L815.39,133.81 L818.28,133.81 L821.16,133.81 L824.05,133.81 L826.93,133.81 L829.82,133.81 L832.70,133.81 L835.59,133.80 L838.47,133.80 L841.36,133.80 L844.24,133.80 L847.12,133.80 L850.01,133.80 L852.89,133.80 L855.78,133.80 L858.66,133.80 L861.55,133.80 L864.43,133.80 L867.32,133.80 L870.20,133.80 L873.09,133.80 L875.97,133.80 L878.86,133.80 L881.74,133.80 L884.63,133.80 L887.51,133.80 L890.40,133.80 L893.28,133.80 L896.17,133.80 L899.05,133.80 L901.94,133.80 L904.82,133.80 L907.71,133.80 L910.59,133.80 L913.48,133.80 L916.36,133.80 L919.24,133.80 L922.13,133.80 L925.01,133.80 L927.90,133.80 L930.78,133.80 L933.67,133.80 L936.55,133.80 L939.44,133.80 L942.32,133.80 L945.21,133.80 L948.09,133.80 L950.98,133.80 L953.86,133.80 L956.75,133.80 L959.63,133.80 L962.52,133.81 L965.40,133.81 L968.29,133.81 L971.17,133.81 L974.06,133.81 L976.94,133.81 L979.83,133.81 L982.71,133.81 L985.60,133.81 L988.48,133.81 L991.37,133.81 L994.25,133.81 L997.13,133.81 L1000.02,133.81 L1002.90,133.81 L1005.79,133.81 L1008.67,133.81 L1011.56,133.81 L1014.44,133.81 L1017.33,133.81 L1020.21,133.82 L1023.10,133.82 L1025.98,133.82 L1028.87,133.82 L1031.75,133.82 L1034.64,133.82 L1037.52,133.82 L1040.41,133.82 L1043.29,133.82 L1046.18,133.82 L1049.06,133.82 L1051.95,133.82 L1054.83,133.83 L1057.72,133.83 L1060.60,133.83 L1063.49,133.83 L1066.37,133.83 L1069.25,133.83 L1072.14,133.83 L1075.02,133.83 L1077.91,133.83 L1080.79,133.84 L1083.68,133.84 L1086.56,133.84 L1089.45,133.84 L1092.33,133.84 L1095.22,133.84 L1098.10,133.84 L1100.99,133.84 L1103.87,133.85 L1106.76,133.85 L1109.64,133.85 L1112.53,133.85 L1115.41,133.85 L1118.30,133.85 L1121.18,133.85 L1124.07,133.86 L1126.95,133.86 L1129.84,133.86 L1132.72,133.86 L1135.61,133.86 L1138.49,133.86 L1141.37,133.87 L1144.26,133.87 L1147.14,133.87 L1150.03,133.87 L1152.91,133.87 L1155.80,133.88 L1158.68,133.88 L1161.57,133.88 L1164.45,133.88 L1167.34,133.88 L1170.22,133.89 L1173.11,133.89 L1175.99,133.89 L1178.88,133.89 L1181.76,133.89 L1184.65,133.90 L1187.53,133.90 L1190.42,133.90 L1193.30,133.90 L1196.19,133.91 L1199.07,133.91 L1201.96,133.91 L1204.84,133.91 L1207.73,133.91 L1210.61,133.92 L1213.50,133.92 L1216.38,133.92 L1219.26,133.93 L1222.15,133.93 L1225.03,133.93 L1227.92,133.93 L1230.80,133.94 L1233.69,133.94 L1236.57,133.94 L1239.46,133.94 L1242.34,133.95 L1245.23,133.95 L1248.11,133.95 L1251.00,133.96 L1253.88,133.96 L1256.77,133.96 L1259.65,133.97 L1262.54,133.97 L1265.42,133.97 L1268.31,133.98 L1271.19,133.98 L1274.08,133.98 L1276.96,133.99 L1279.85,133.99 L1282.73,133.99 L1285.62,134.00 L1288.50,134.00" stroke="#ff00ff" stroke-width="5.2" fill="none" stroke-linejoin="round" clip-path="url(#plot)"/>
<rect x="172.60" y="468.80" width="26.80" height="26.80" stroke="#ff00ff" stroke-width="3.7" fill="none"/>
<rect x="183.80" y="252.70" width="26.80" height="26.80" stroke="#ff00ff" stroke-width="3.7" fill="none"/>
<rect x="208.00" y="161.80" width="26.80" height="26.80" stroke="#ff00ff" stroke-width="3.7" fill="none"/>
<rect x="264.00" y="130.20" width="26.80" height="26.80" stroke="#ff00ff" stroke-width="3.7" fill="none"/>
<rect x="383.60" y="122.00" width="26.80" height="26.80" stroke="#ff00ff" stroke-width="3.7" fill="none"/>
<rect x="602.30" y="120.60" width="26.80" height="26.80" stroke="#ff00ff" stroke-width="3.7" fill="none"/>
<rect x="955.00" y="120.60" width="26.80" height="26.80" stroke="#ff00ff" stroke-width="3.7" fill="none"/>
<path d="M1111.6,682.6H1268.4" stroke="#ff0000" stroke-width="5.2" fill="none"/>
<path d="M1176.70,682.60H1202.90M1189.80,669.50V695.70" stroke="#ff0000" stroke-width="3.7" fill="none"/>
<path d="M1111.6,748.9H1268.4" stroke="#0000ff" stroke-width="5.2" fill="none"/>
<path d="M1176.70,748.90H1202.90M1189.80,735.80V762.00M1176.70,735.80L1202.90,762.00M1176.70,762.00L1202.90,735.80" stroke="#0000ff" stroke-width="3.7" fill="none"/>
<path d="M1111.6,815.2H1268.4" stroke="#ff00ff" stroke-width="5.2" fill="none"/>
<rect x="1176.40" y="801.80" width="26.80" height="26.80" stroke="#ff00ff" stroke-width="3.7" fill="none"/>
<rect x="181.0" y="112.3" width="1149.3" height="768.7" stroke="#000" stroke-width="5.3" fill="none"/>
<g font-family="'Liberation Sans', sans-serif" font-size="44" fill="#000">
<text transform="translate(0,61.1) scale(1,1.02)"><tspan x="437.90" letter-spacing="0.140">Evaluation</tspan> <tspan x="656.90" letter-spacing="0.500">of</tspan> <tspan x="704.90" letter-spacing="-0.200">data</tspan> <tspan x="803.10" letter-spacing="0.340">augmentation</tspan></text>
<text transform="translate(150.1,127.5) scale(1,1.015)" text-anchor="end">100</text>
<text transform="translate(150.1,255.6) scale(1,1.015)" text-anchor="end">95</text>
<text transform="translate(150.1,383.7) scale(1,1.015)" text-anchor="end">90</text>
<text transform="translate(150.1,511.9) scale(1,1.015)" text-anchor="end">85</text>
<text transform="translate(150.1,640.0) scale(1,1.015)" text-anchor="end">80</text>
<text transform="translate(150.1,768.1) scale(1,1.015)" text-anchor="end">75</text>
<text transform="translate(150.1,896.2) scale(1,1.015)" text-anchor="end">70</text>
<text transform="translate(128.88,962.3) scale(1,1.015)">6<tspan font-family="Liberation Serif, serif" dx="-1.2" dy="3.8">·</tspan><tspan dx="-1.2" dy="-3.8">10</tspan></text>
<text transform="translate(214.54,940.75) scale(1,1.125)" font-size="35.2">3</text>
<text transform="translate(331.71,962.3) scale(1,1.015)">100<tspan font-family="Liberation Serif, serif" dx="-1.2" dy="3.8">·</tspan><tspan dx="-1.2" dy="-3.8">10</tspan></text>
<text transform="translate(466.31,940.75) scale(1,1.125)" font-size="35.2">3</text>
<text transform="translate(562.21,962.3) scale(1,1.015)">200<tspan font-family="Liberation Serif, serif" dx="-1.2" dy="3.8">·</tspan><tspan dx="-1.2" dy="-3.8">10</tspan></text>
<text transform="translate(696.81,940.75) scale(1,1.125)" font-size="35.2">3</text>
<text transform="translate(792.71,962.3) scale(1,1.015)">300<tspan font-family="Liberation Serif, serif" dx="-1.2" dy="3.8">·</tspan><tspan dx="-1.2" dy="-3.8">10</tspan></text>
<text transform="translate(927.31,940.75) scale(1,1.125)" font-size="35.2">3</text>
<text transform="translate(1023.21,962.3) scale(1,1.015)">400<tspan font-family="Liberation Serif, serif" dx="-1.2" dy="3.8">·</tspan><tspan dx="-1.2" dy="-3.8">10</tspan></text>
<text transform="translate(1157.81,940.75) scale(1,1.125)" font-size="35.2">3</text>
<text transform="translate(1253.71,962.3) scale(1,1.015)">500<tspan font-family="Liberation Serif, serif" dx="-1.2" dy="3.8">·</tspan><tspan dx="-1.2" dy="-3.8">10</tspan></text>
<text transform="translate(1388.31,940.75) scale(1,1.125)" font-size="35.2">3</text>
<text transform="translate(1080,697.4) scale(1,1.015)" text-anchor="end">Baseline</text>
<text transform="translate(1080,763.7) scale(1,1.015)" text-anchor="end"><tspan letter-spacing="-1">VGG</tspan>-16</text>
<text transform="translate(1080,830.0) scale(1,1.015)" text-anchor="end">Xception</text>
</g>
<g font-family="'DejaVu Sans', sans-serif" font-size="44.2" fill="#000">
<text x="755.2" y="1028.2" text-anchor="middle">Train size</text>
<text transform="translate(53.8,496.5) rotate(-90)" text-anchor="middle">F<tspan font-size="35.5" dy="12.8">1</tspan></text>
</g>
</svg>
</body></html>
